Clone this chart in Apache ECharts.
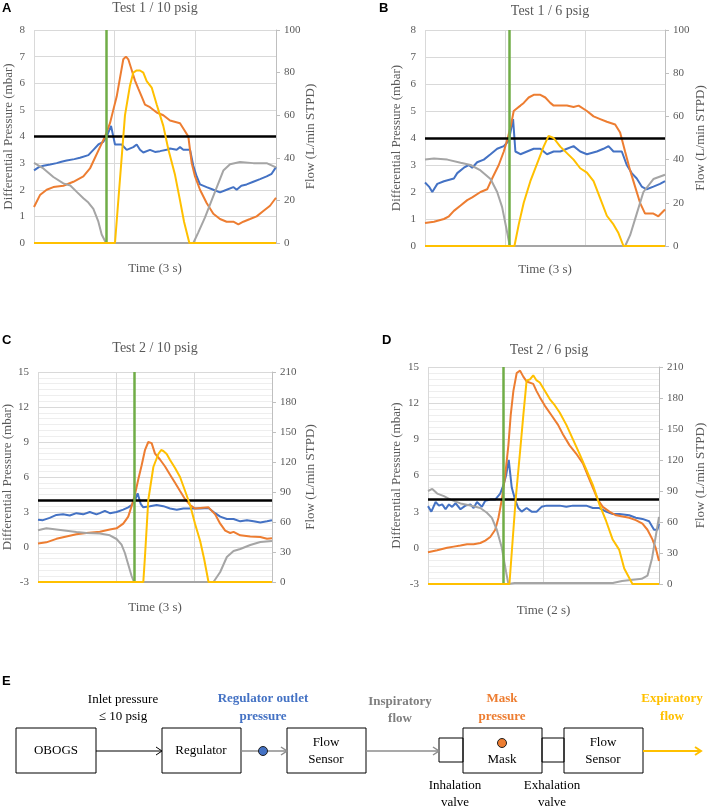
<!DOCTYPE html>
<html><head><meta charset="utf-8">
<script src="https://cdn.jsdelivr.net/npm/echarts@6/dist/echarts.min.js"></script>
<style>html,body{margin:0;padding:0;background:#fff}#c{width:708px;height:809px}</style>
</head><body><div id="c"></div>
<script>
// ---------- labels ----------
const panelLetters = ['A', 'B', 'C', 'D'];
const panelTitles = ['Test 1 / 10 psig', 'Test 1 / 6 psig', 'Test 2 / 10 psig', 'Test 2 / 6 psig'];
const timeLabels = ['Time (3 s)', 'Time (3 s)', 'Time (3 s)', 'Time (2 s)'];
const timeSpan = [3, 3, 3, 2];                 // seconds shown on each x axis
const pressureAxis = [[0, 8, 1], [0, 8, 1], [-3, 15, 3], [-3, 15, 3]];   // min, max, step (mbar)
const flowAxis = [[0, 100, 20], [0, 100, 20], [0, 210, 30], [0, 210, 30]]; // min, max, step (L/min)
const thresholdPressure = 4;                      // black horizontal line (mbar)
const inhalationStart = [0.893, 1.055, 1.243, 0.653]; // green vertical line (s)

// ---------- Panel A : Test 1 / 10 psig ----------  [time s, value]
const regA = [[0,2.73],[0.06,2.85],[0.116,2.9],[0.2,2.95],[0.281,3.0],[0.34,3.05],[0.405,3.1],[0.5,3.15],[0.57,3.2],[0.674,3.3],[0.736,3.5],[0.798,3.7],[0.86,3.8],[0.901,4.0],[0.955,4.4],[1.004,3.7],[1.087,3.7],[1.149,3.5],[1.231,3.6],[1.273,3.7],[1.314,3.5],[1.355,3.4],[1.438,3.5],[1.5,3.42],[1.562,3.45],[1.645,3.5],[1.686,3.55],[1.769,3.5],[1.81,3.6],[1.851,3.5],[1.934,3.5],[1.975,2.9],[2.017,2.5],[2.058,2.2],[2.14,2.1],[2.223,2.0],[2.306,1.9],[2.388,2.0],[2.471,2.1],[2.512,2.0],[2.57,2.15],[2.636,2.2],[2.719,2.3],[2.802,2.4],[2.884,2.5],[2.946,2.6],[3.0,2.85]];
const maskA = [[0,1.35],[0.074,1.8],[0.157,2.0],[0.24,2.1],[0.364,2.15],[0.488,2.3],[0.612,2.5],[0.694,2.8],[0.756,3.2],[0.818,3.6],[0.88,4.0],[0.942,4.5],[0.983,5.0],[1.025,5.5],[1.066,6.2],[1.107,6.9],[1.14,7.0],[1.169,6.9],[1.211,6.5],[1.252,6.1],[1.293,5.8],[1.335,5.5],[1.376,5.2],[1.438,5.1],[1.521,4.9],[1.603,4.8],[1.686,4.6],[1.81,4.5],[1.851,4.3],[1.913,4.0],[1.955,3.0],[1.996,2.5],[2.058,2.0],[2.14,1.5],[2.223,1.1],[2.306,0.9],[2.388,0.8],[2.471,0.8],[2.533,0.7],[2.595,0.8],[2.678,0.9],[2.76,1.0],[2.843,1.2],[2.926,1.4],[3.0,1.7]];
const inspA = [[0,37.6],[0.116,35],[0.24,31],[0.364,28],[0.45,27],[0.53,24],[0.612,21],[0.674,19],[0.736,16],[0.798,10],[0.839,4],[0.893,0],[1.975,0],[2.037,5],[2.12,12],[2.202,20],[2.285,28],[2.347,34],[2.43,37],[2.554,38],[2.719,37.5],[2.884,37.5],[3.0,35.5]];
const expA = [[0,0],[1.004,0],[1.128,60],[1.19,74],[1.231,80],[1.273,81],[1.314,81],[1.355,80],[1.397,76],[1.459,73],[1.521,65],[1.603,55],[1.665,44],[1.748,32],[1.81,20],[1.86,10],[1.926,0],[3.0,0]];

// ---------- Panel B : Test 1 / 6 psig ----------
const regB = [[0,2.35],[0.05,2.2],[0.091,2.0],[0.154,2.3],[0.237,2.4],[0.361,2.5],[0.403,2.7],[0.486,2.9],[0.548,3.0],[0.59,2.9],[0.652,3.1],[0.735,3.2],[0.819,3.4],[0.902,3.6],[0.985,3.7],[1.047,3.9],[1.101,4.7],[1.13,3.5],[1.193,3.4],[1.276,3.5],[1.359,3.6],[1.442,3.6],[1.525,3.4],[1.608,3.5],[1.691,3.5],[1.774,3.6],[1.857,3.7],[1.94,3.5],[2.024,3.4],[2.148,3.5],[2.231,3.6],[2.294,3.7],[2.356,3.5],[2.46,3.5],[2.522,3.0],[2.584,2.7],[2.647,2.5],[2.709,2.2],[2.771,2.1],[2.855,2.2],[2.938,2.3],[3.0,2.4]];
const maskB = [[0,0.85],[0.112,0.9],[0.237,1.0],[0.299,1.1],[0.361,1.3],[0.445,1.5],[0.528,1.7],[0.59,1.8],[0.694,2.0],[0.777,2.1],[0.839,2.5],[0.922,3.0],[0.985,3.5],[1.035,4.0],[1.076,4.5],[1.109,5.0],[1.151,5.1],[1.193,5.2],[1.234,5.3],[1.296,5.5],[1.359,5.6],[1.442,5.6],[1.504,5.5],[1.566,5.3],[1.608,5.2],[1.774,5.2],[1.857,5.15],[1.92,5.2],[2.024,5.0],[2.107,4.8],[2.19,4.7],[2.273,4.6],[2.377,4.5],[2.439,4.2],[2.501,3.5],[2.564,2.8],[2.626,2.2],[2.688,1.6],[2.751,1.2],[2.855,1.2],[2.917,1.1],[3.0,1.35]];
const inspB = [[0,40],[0.112,40.5],[0.279,40],[0.445,38.5],[0.57,37.5],[0.694,35],[0.819,31],[0.902,25],[0.964,18],[1.018,8],[1.06,0],[2.502,0],[2.564,5],[2.647,15],[2.73,25],[2.855,31],[3.0,33]];
const expB = [[0,0],[1.118,0],[1.172,10],[1.234,20],[1.317,30],[1.4,38],[1.483,46],[1.545,51],[1.608,50],[1.691,46],[1.774,43],[1.857,40],[1.94,36],[2.024,34],[2.107,30],[2.19,22],[2.273,14],[2.356,10],[2.418,6],[2.481,0],[3.0,0]];

// ---------- Panel C : Test 2 / 10 psig ----------
const regC = [[0,2.34],[0.064,2.3],[0.15,2.5],[0.236,2.75],[0.321,2.8],[0.407,2.7],[0.493,2.9],[0.579,2.8],[0.664,3.0],[0.75,2.8],[0.793,2.9],[0.857,3.1],[0.921,2.9],[1.007,3.0],[1.093,3.2],[1.157,3.4],[1.2,3.6],[1.243,4.0],[1.277,4.6],[1.316,3.7],[1.35,3.4],[1.436,3.5],[1.521,3.6],[1.607,3.5],[1.693,3.3],[1.779,3.2],[1.864,3.3],[1.993,3.3],[2.079,3.3],[2.186,3.35],[2.271,2.9],[2.336,2.6],[2.421,2.4],[2.507,2.4],[2.593,2.2],[2.679,2.3],[2.764,2.2],[2.85,2.1],[2.936,2.2],[3.0,2.3]];
const maskC = [[0,0.3],[0.107,0.4],[0.236,0.7],[0.364,0.9],[0.493,1.1],[0.621,1.2],[0.793,1.3],[0.921,1.5],[1.007,1.6],[1.093,2.0],[1.157,2.6],[1.2,3.5],[1.243,4.5],[1.286,5.8],[1.329,7.0],[1.371,8.3],[1.414,9.0],[1.457,8.9],[1.5,8.0],[1.564,7.5],[1.629,6.9],[1.693,6.2],[1.757,5.5],[1.821,4.8],[1.886,4.1],[1.95,3.6],[2.014,3.3],[2.079,3.35],[2.186,3.4],[2.271,2.8],[2.336,2.0],[2.4,1.4],[2.464,1.2],[2.507,1.3],[2.593,1.0],[2.721,0.9],[2.85,0.85],[2.936,0.7],[3.0,0.75]];
const inspC = [[0,51.7],[0.107,53.7],[0.236,52.5],[0.364,51.3],[0.493,50],[0.621,49],[0.793,48.5],[0.921,46.7],[1.007,43],[1.071,37.3],[1.114,29],[1.157,17.5],[1.2,6],[1.23,0],[2.25,0],[2.336,10],[2.421,25],[2.507,31],[2.593,33],[2.721,37],[2.85,40],[3.0,41]];
const expC = [[0,0],[1.35,0],[1.371,25],[1.414,82],[1.479,115],[1.543,128],[1.579,132],[1.607,131],[1.65,128],[1.693,122],[1.757,114],[1.821,105],[1.886,91],[1.95,77],[2.014,58],[2.079,41],[2.13,23],[2.186,0],[3.0,0]];

// ---------- Panel D : Test 2 / 6 psig ----------
const regD = [[0,3.46],[0.029,3.0],[0.066,3.8],[0.095,3.5],[0.123,3.6],[0.152,3.2],[0.181,3.6],[0.209,3.4],[0.238,3.7],[0.281,3.2],[0.324,3.5],[0.367,3.6],[0.395,3.3],[0.424,3.8],[0.467,3.4],[0.496,3.9],[0.539,4.0],[0.582,4.0],[0.625,4.5],[0.653,5.2],[0.676,6.0],[0.699,7.3],[0.725,5.0],[0.754,4.0],[0.782,3.3],[0.811,3.0],[0.854,3.3],[0.897,3.0],[0.94,3.0],[0.983,3.4],[1.026,3.5],[1.14,3.5],[1.198,3.4],[1.255,3.5],[1.37,3.5],[1.384,3.6],[1.427,3.3],[1.484,3.3],[1.542,3.0],[1.599,2.8],[1.656,2.8],[1.742,2.7],[1.799,2.5],[1.857,2.4],[1.914,2.2],[1.957,1.5],[1.986,1.5],[2.0,2.0]];
const maskD = [[0,-0.37],[0.08,-0.2],[0.166,0.0],[0.223,0.1],[0.281,0.2],[0.338,0.3],[0.395,0.3],[0.453,0.4],[0.496,0.6],[0.539,0.9],[0.582,1.5],[0.61,2.5],[0.639,4.0],[0.668,6.0],[0.696,8.5],[0.716,11.0],[0.739,13.0],[0.768,14.5],[0.797,14.7],[0.825,14.2],[0.854,13.8],[0.911,13.6],[0.94,13.0],[0.968,12.5],[1.011,11.8],[1.069,11.0],[1.126,10.2],[1.169,9.4],[1.226,8.5],[1.284,7.8],[1.341,7.0],[1.384,6.0],[1.427,5.0],[1.47,4.0],[1.513,3.4],[1.57,3.0],[1.628,2.7],[1.685,2.6],[1.742,2.5],[1.799,2.3],[1.857,2.0],[1.9,1.5],[1.943,0.7],[1.971,0.0],[2.0,-1.1]];
const inspD = [[0,90],[0.037,92],[0.08,87.5],[0.138,85],[0.195,81.7],[0.281,78],[0.367,76],[0.453,73.5],[0.51,69],[0.553,64],[0.596,52.5],[0.639,35],[0.676,11.7],[0.696,0],[0.75,1],[1.6,1],[1.68,3],[1.85,5],[1.9,8],[1.94,25],[1.97,45],[2.0,65]];
const expD = [[0,0],[0.705,0],[0.759,82],[0.797,128],[0.825,163],[0.854,197],[0.883,198],[0.911,202],[0.94,197],[0.968,195],[1.011,187],[1.054,179],[1.097,173],[1.14,166],[1.198,154],[1.255,140],[1.312,126],[1.37,111],[1.427,96],[1.484,77],[1.542,61],[1.599,43],[1.656,33],[1.699,15],[1.77,0],[2.0,0]];

const regulatorSeries = [regA, regB, regC, regD];
const maskSeries = [maskA, maskB, maskC, maskD];
const inspSeries = [inspA, inspB, inspC, inspD];
const expSeries = [expA, expB, expC, expD];

// ---------- styling / layout ----------
const C_BLUE = '#4472C4', C_ORANGE = '#ED7D31', C_GRAY = '#A5A5A5', C_YELLOW = '#FFC000', C_GREEN = '#70AD47';
const TXT = '#595959';
const SERIF = '"Liberation Serif", "Times New Roman", serif';
const SANS = '"Liberation Sans", Arial, sans-serif';

const gridBoxes = [
  {left: 34, top: 30, width: 242, height: 213},
  {left: 425, top: 30, width: 241, height: 216},
  {left: 38, top: 372, width: 234, height: 210},
  {left: 428, top: 367, width: 233, height: 217}
];
const leftNameGap = [19, 22, 24, 25];
const rightNameGap = [26, 29, 32, 35];
const timeNameGap = [19, 17, 19, 20];
const titlePos = [[155, 8], [550, 11], [155, 348], [549, 350]];
const letterPos = [[2, 8], [379, 8], [2, 340], [382, 340]];

const grid = [], xAxis = [], yAxis = [], series = [], graphic = [];

for (let i = 0; i < 4; i++) {
  grid.push(Object.assign({containLabel: false}, gridBoxes[i]));
  xAxis.push({
    type: 'value', gridIndex: i, min: 0, max: timeSpan[i], interval: 1,
    name: timeLabels[i], nameLocation: 'middle', nameGap: timeNameGap[i],
    nameTextStyle: {fontFamily: SERIF, fontSize: 13, color: TXT},
    axisLine: {show: false}, axisTick: {show: false}, axisLabel: {show: false},
    splitLine: {show: true, lineStyle: {color: '#d9d9d9', width: 1}}
  });
  const pa = pressureAxis[i], fa = flowAxis[i];
  const fine = i >= 2;
  yAxis.push({
    type: 'value', gridIndex: i, position: 'left', min: pa[0], max: pa[1], interval: pa[2],
    name: 'Differential Pressure (mbar)', nameLocation: 'middle', nameRotate: 90, nameGap: leftNameGap[i],
    nameTextStyle: {fontFamily: SERIF, fontSize: 13, color: TXT},
    axisLine: {show: false}, axisTick: {show: false},
    axisLabel: {fontFamily: SERIF, fontSize: 11, color: TXT, margin: 9},
    splitLine: {show: true, lineStyle: {color: '#d9d9d9', width: 1}},
    minorTick: {show: false, splitNumber: 6},
    minorSplitLine: {show: fine, lineStyle: {color: '#eeeeee', width: 1}}
  });
  yAxis.push({
    type: 'value', gridIndex: i, position: 'right', min: fa[0], max: fa[1], interval: fa[2],
    name: 'Flow (L/min STPD)', nameLocation: 'middle', nameRotate: 90, nameGap: rightNameGap[i],
    nameTextStyle: {fontFamily: SERIF, fontSize: 13, color: TXT},
    axisLine: {show: true, lineStyle: {color: '#bfbfbf', width: 1}},
    axisTick: {show: true, inside: false, length: 4, lineStyle: {color: '#bfbfbf'}},
    axisLabel: {fontFamily: SERIF, fontSize: 11, color: TXT, margin: 8},
    splitLine: {show: false}
  });
  const common = {type: 'line', xAxisIndex: i, showSymbol: false, symbol: 'none', animation: false, silent: true};
  series.push(Object.assign({}, common, {name: 'Regulator outlet pressure', yAxisIndex: 2 * i, data: regulatorSeries[i], lineStyle: {color: C_BLUE, width: 2}, z: 2}));
  series.push(Object.assign({}, common, {name: 'Mask pressure', yAxisIndex: 2 * i, data: maskSeries[i], lineStyle: {color: C_ORANGE, width: 2}, z: 3}));
  series.push(Object.assign({}, common, {name: 'Inspiratory flow', yAxisIndex: 2 * i + 1, data: inspSeries[i], lineStyle: {color: C_GRAY, width: 2}, z: 4}));
  series.push(Object.assign({}, common, {name: 'Expiratory flow', yAxisIndex: 2 * i + 1, data: expSeries[i], lineStyle: {color: C_YELLOW, width: 2}, z: 5}));
  series.push(Object.assign({}, common, {
    name: 'ref', yAxisIndex: 2 * i, data: [], z: 6,
    markLine: {
      silent: true, symbol: 'none', animation: false, label: {show: false},
      data: [
        {yAxis: thresholdPressure, lineStyle: {color: '#000', width: 2.5, type: 'solid'}},
        {xAxis: inhalationStart[i], lineStyle: {color: C_GREEN, width: 2.5, type: 'solid'}}
      ]
    }
  }));
  graphic.push({type: 'text', silent: true, style: {x: titlePos[i][0], y: titlePos[i][1], text: panelTitles[i], fill: TXT, font: '14px ' + SERIF, align: 'center', verticalAlign: 'middle'}});
  graphic.push({type: 'text', silent: true, style: {x: letterPos[i][0], y: letterPos[i][1], text: panelLetters[i], fill: '#000', font: 'bold 13px ' + SANS, align: 'left', verticalAlign: 'middle'}});
}

// ---------- panel E : setup diagram ----------
function box(x, y, w, h) { return {type: 'rect', silent: true, shape: {x: x, y: y, width: w, height: h}, style: {fill: 'none', stroke: '#000', lineWidth: 1}}; }
function txt(x, y, t, color, bold) { return {type: 'text', silent: true, style: {x: x, y: y, text: t, fill: color || '#000', font: (bold ? 'bold ' : '') + '13px ' + SERIF, align: 'center', verticalAlign: 'middle'}}; }
function arrow(x1, x2, y, color, w) {
  return [
    {type: 'line', silent: true, shape: {x1: x1, y1: y, x2: x2 - 1, y2: y}, style: {stroke: color, lineWidth: w}},
    {type: 'polyline', silent: true, shape: {points: [[x2 - 6, y - 4], [x2, y], [x2 - 6, y + 4]]}, style: {stroke: color, lineWidth: w, fill: 'none'}}
  ];
}
graphic.push({type: 'text', silent: true, style: {x: 2, y: 681, text: 'E', fill: '#000', font: 'bold 13px ' + SANS, align: 'left', verticalAlign: 'middle'}});
graphic.push(box(16, 728, 80, 45), box(162, 728, 79, 45), box(287, 728, 79, 45),
  box(439, 738, 24, 24), box(463, 728, 79, 45), box(542, 738, 22, 24), box(564, 728, 79, 45));
graphic.push(...arrow(96, 162, 751, '#000', 1));
graphic.push(...arrow(241, 287, 751, '#8c8c8c', 1.5));
graphic.push(...arrow(366, 439, 751, '#8c8c8c', 1.5));
graphic.push(...arrow(643, 701, 751, C_YELLOW, 2));
graphic.push({type: 'circle', silent: true, shape: {cx: 263, cy: 751, r: 4.5}, style: {fill: C_BLUE, stroke: '#1f1f1f', lineWidth: 1}});
graphic.push({type: 'circle', silent: true, shape: {cx: 502, cy: 743, r: 4.5}, style: {fill: C_ORANGE, stroke: '#1f1f1f', lineWidth: 1}});
graphic.push(
  txt(56, 751, 'OBOGS'), txt(201, 751, 'Regulator'),
  txt(326, 743, 'Flow'), txt(326, 760, 'Sensor'),
  txt(502, 760, 'Mask'),
  txt(603, 743, 'Flow'), txt(603, 760, 'Sensor'),
  txt(123, 700, 'Inlet pressure'), txt(123, 717, '≤ 10 psig'),
  txt(263, 699, 'Regulator outlet', C_BLUE, true), txt(263, 717, 'pressure', C_BLUE, true),
  txt(400, 702, 'Inspiratory', '#7f7f7f', true), txt(400, 719, 'flow', '#7f7f7f', true),
  txt(502, 699, 'Mask', C_ORANGE, true), txt(502, 717, 'pressure', C_ORANGE, true),
  txt(672, 699, 'Expiratory', C_YELLOW, true), txt(672, 717, 'flow', C_YELLOW, true),
  txt(455, 786, 'Inhalation'), txt(455, 803, 'valve'),
  txt(552, 786, 'Exhalation'), txt(552, 803, 'valve')
);

const chart = echarts.init(document.getElementById('c'), null, {renderer: 'canvas'});
chart.setOption({animation: false, backgroundColor: '#fff', grid: grid, xAxis: xAxis, yAxis: yAxis, series: series, graphic: graphic});
</script>
</body></html>
